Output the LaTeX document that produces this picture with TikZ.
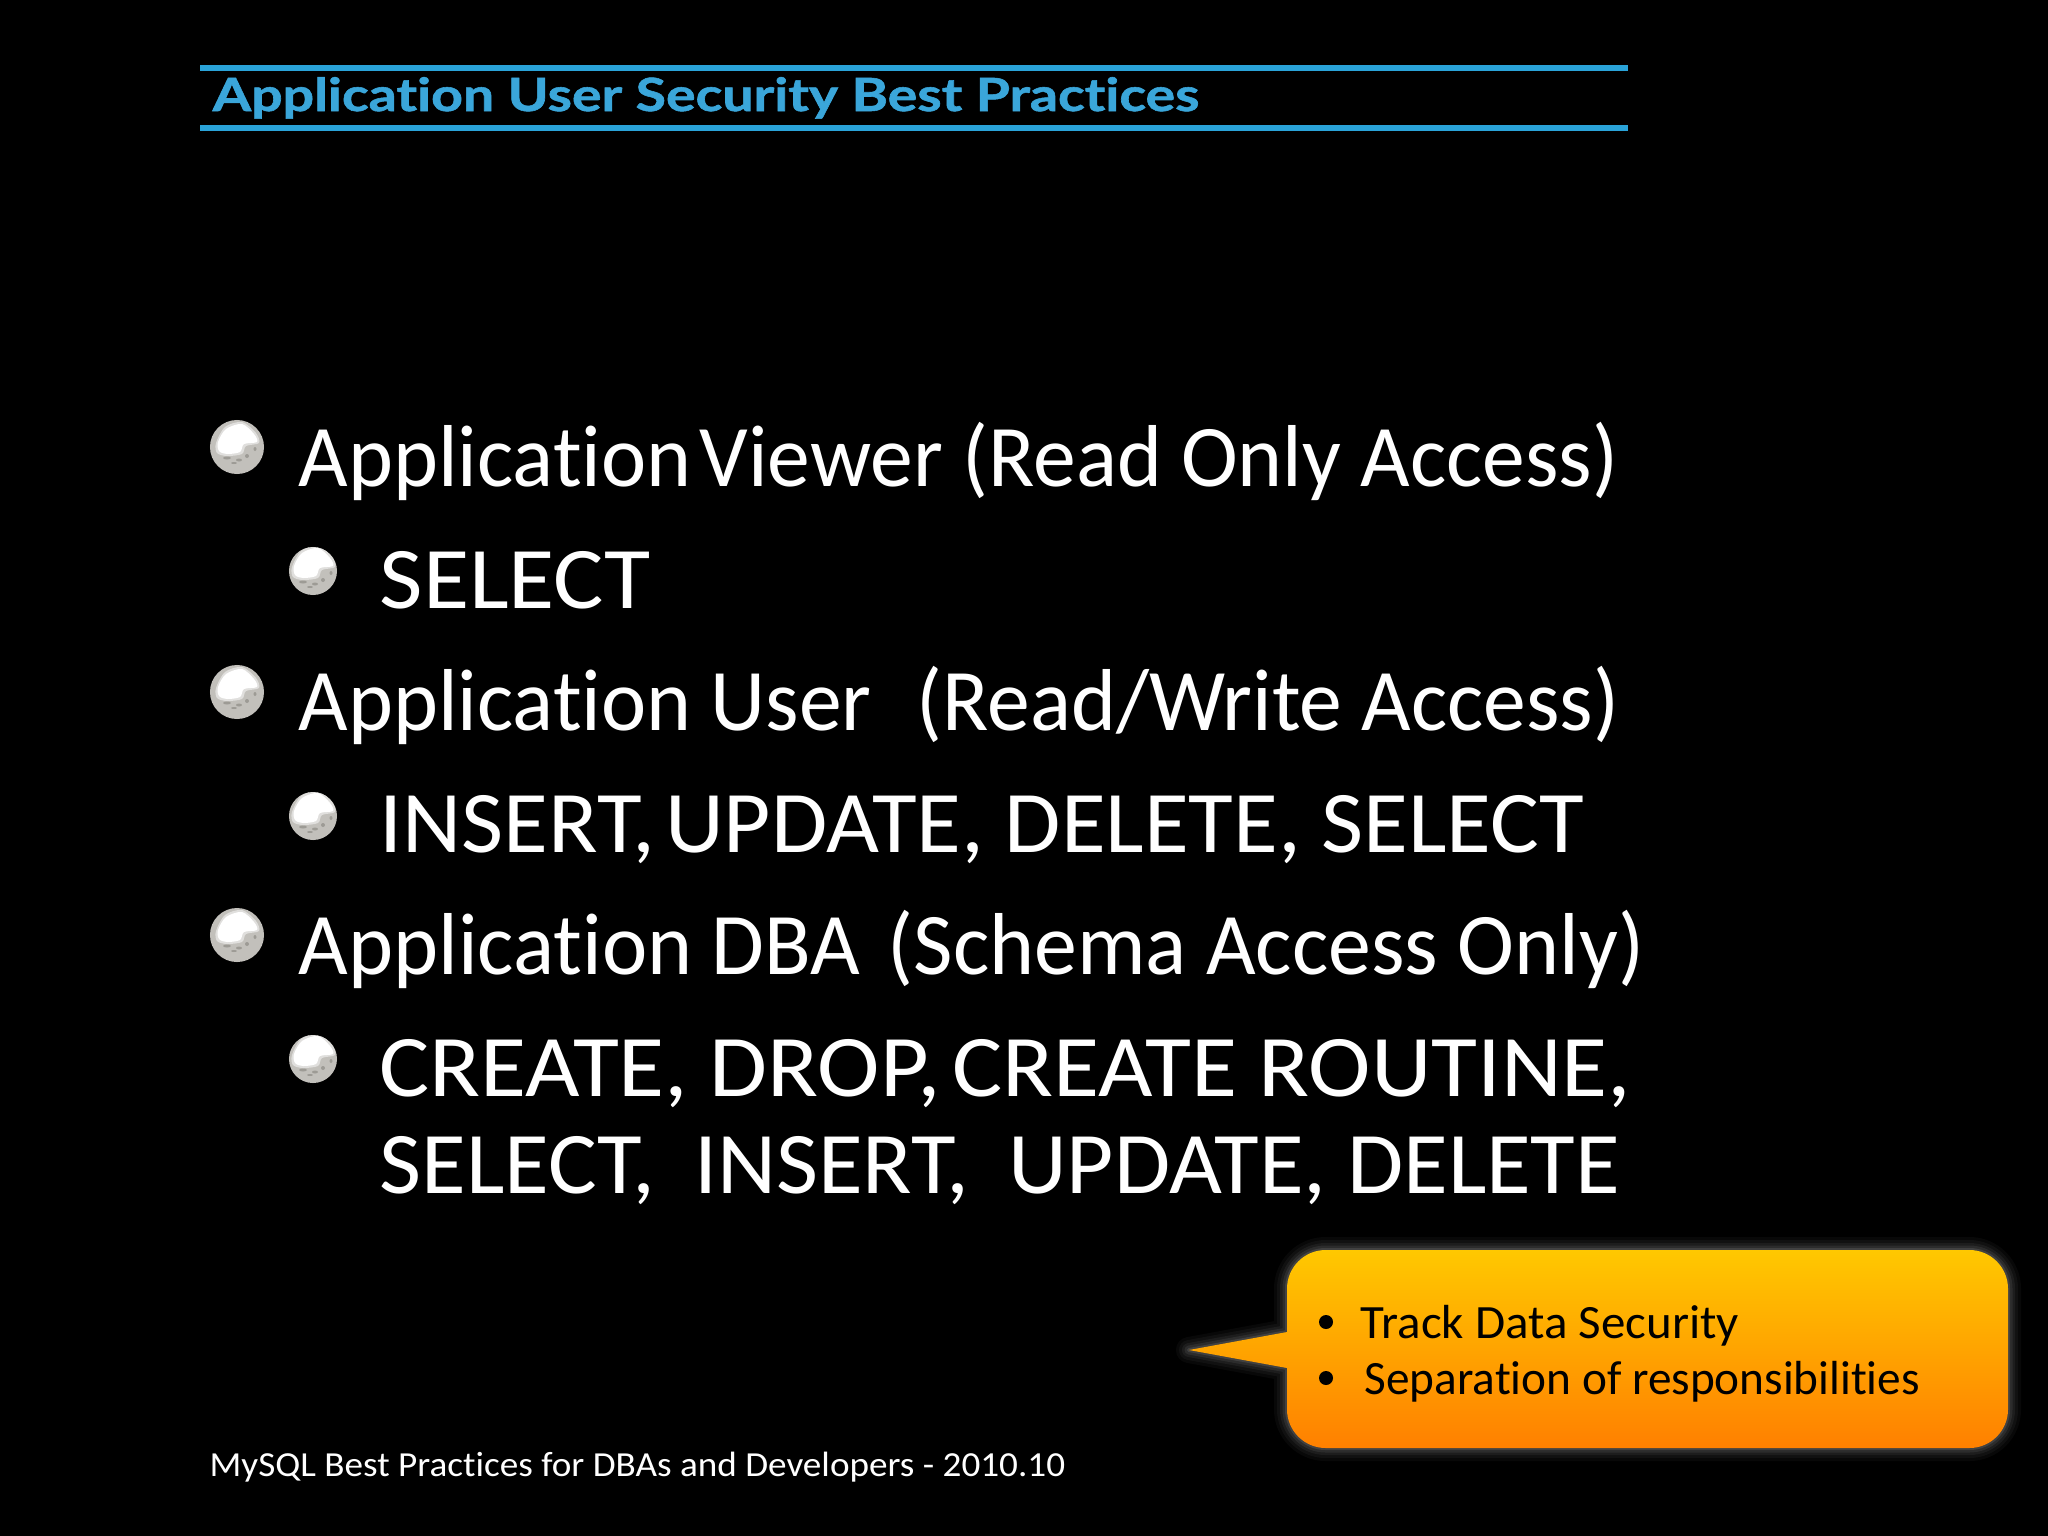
\documentclass[tikz,border=0pt]{standalone}
\usepackage{fontspec}
\setmainfont[Ligatures=NoCommon]{Carlito}
\newfontfamily\headfont[Ligatures=NoCommon,BoldFeatures={FakeBold=1.2}]{Lato}
\usetikzlibrary{calc}

\definecolor{rulecolor}{HTML}{2AA3D8}
\definecolor{titlecolor}{HTML}{3AA6DA}
\definecolor{boxtop}{HTML}{FFC800}
\definecolor{boxbottom}{HTML}{FF8000}
\definecolor{pearlmid}{HTML}{C2C0BB}
\definecolor{pearldark}{HTML}{A8A6A0}
\definecolor{pearlrim}{HTML}{85837D}
\definecolor{pearledge}{HTML}{BDBBB5}

\pgfdeclareradialshading{pearlball}{\pgfpoint{0bp}{0bp}}{%
  color(0bp)=(pearlmid); color(36bp)=(pearlmid); color(43bp)=(pearldark); color(47bp)=(pearlrim); color(50bp)=(pearledge)}

% largura em pixels da imagem, altura natural
\newlength{\pxunit}
\setlength{\pxunit}{0.2845pt}
\newcommand{\fitline}[2]{\resizebox{#1\pxunit}{\height}{#2}}

\tikzset{
  sheet/.style={fill=black},
  headrule/.style={line width=6*0.2845pt,rulecolor},
  headtext/.style={anchor=base west,inner sep=0pt,text=titlecolor,font=\headfont\bfseries\fontsize{13pt}{16pt}\selectfont},
  mainitem/.style={anchor=base west,inner sep=0pt,text=white,font=\fontsize{25pt}{30pt}\selectfont},
  footnote/.style={anchor=base west,inner sep=0pt,text=white,font=\fontsize{10pt}{12pt}\selectfont},
  boxitem/.style={anchor=base west,inner sep=0pt,text=black,font=\fontsize{13.6pt}{16pt}\selectfont},
  pearl/.style={circle,inner sep=0pt,minimum size=#1*0.2845pt,shading=pearlball,
    path picture={
      \fill[white,opacity=0.5,shift={(path picture bounding box.center)},scale=#1/54]
        plot[smooth cycle] coordinates {(-21,-4) (-12,-20) (5,-25) (19,-14) (22,-4) (9,-1) (5,7) (-10,9) (-20,6)};
      \fill[white,shift={(path picture bounding box.center)},scale=#1/54]
        plot[smooth cycle] coordinates {(-19,-5) (-11,-18) (5,-23) (17,-13) (20,-5) (7,-3) (3,5) (-10,7) (-18,4)};
      \fill[pearlrim,opacity=0.6,shift={(path picture bounding box.center)},scale=#1/54]
        (-10,11) ellipse (4 and 1.5) (2,13) ellipse (3 and 1.5) (-3,16) ellipse (3 and 1) (10,9) ellipse (2 and 2) (18,2) ellipse (1.5 and 2);
    }},
  boxdot/.style={circle,inner sep=0pt,minimum size=14*0.2845pt,fill=black},
}

% contorno do balao
\newcommand{\balloonpath}{
  (1189,1350) -- (1287,1332) -- (1287,1300)
  [rounded corners=11pt] -- (1287,1250) -- (2008,1250) -- (2008,1448) -- (1287,1448)
  [rounded corners=0pt] -- (1287,1368) -- cycle}

\begin{document}
\begin{tikzpicture}[x=0.01cm,y=-0.01cm]
  % Fundo
  \fill[sheet] (0,0) rectangle (2048,1536);
  \useasboundingbox (0,0) rectangle (2048,1536);

  % Titulo
  \draw[headrule] (200,68) coordinate (ruleAa) -- (1628,68) coordinate (ruleAb);
  \draw[headrule] (200,128) coordinate (ruleBa) -- (1628,128) coordinate (ruleBb);
  \node[headtext] (title) at (212,111) {\fitline{986}{Application User Security Best Practices}};

  % Marcadores
  \foreach \name/\y in {one/447,two/692,three/935}
    \node[pearl=54] (ball\name) at (237,\y) {};
  \foreach \name/\y in {one/571,two/816,three/1059}
    \node[pearl=48] (sub\name) at (313,\y) {};

  % Linhas de texto
  \node[mainitem] (viewer) at (298,486) {\fitline{1319}{Application\hspace{-0.13em} Viewer (Read Only Access)}};
  \node[mainitem] (viewersel) at (379,608) {\fitline{271}{SELECT}};
  \node[mainitem] (appuser) at (298,730) {\fitline{1320}{Application User\hspace{0.3em} (Read/Write Access)}};
  \node[mainitem] (appusersel) at (379,852) {\fitline{1204}{INSERT,\hspace{-0.12em} UPDATE, DELETE, SELECT}};
  \node[mainitem] (appdba) at (298,974) {\fitline{1345}{Application DBA\hspace{0.1em} (Schema Access Only)}};
  \node[mainitem] (appdbasel) at (379,1096) {\fitline{1251}{CREATE, DROP,\hspace{-0.1em} CREATE ROUTINE,}};
  \node[mainitem] (appdbasec) at (379,1193) {\fitline{1240}{SELECT,\hspace{0.2em} INSERT,\hspace{0.2em} UPDATE, DELETE}};

  % Balao
  \foreach \w/\o in {26/0.03,20/0.04,14/0.05,9/0.07,4/0.1}
    \draw[white,line width=\w*0.2845pt,opacity=\o,line join=round] \balloonpath;
  \shade[top color=boxtop,bottom color=boxbottom] \balloonpath;
  \node[boxdot] (dotA) at (1326,1322) {};
  \node[boxdot] (dotB) at (1326,1378) {};
  \node[boxitem] (track) at (1360,1338) {\fitline{378}{Track Data Security}};
  \node[boxitem] (split) at (1364,1394) {\fitline{555}{Separation of responsibilities}};

  % Rodape
  \node[footnote] (footer) at (209,1476) {\fitline{855}{MySQL Best Practices for DBAs and Developers - 2010.10}};
\end{tikzpicture}
\end{document}
